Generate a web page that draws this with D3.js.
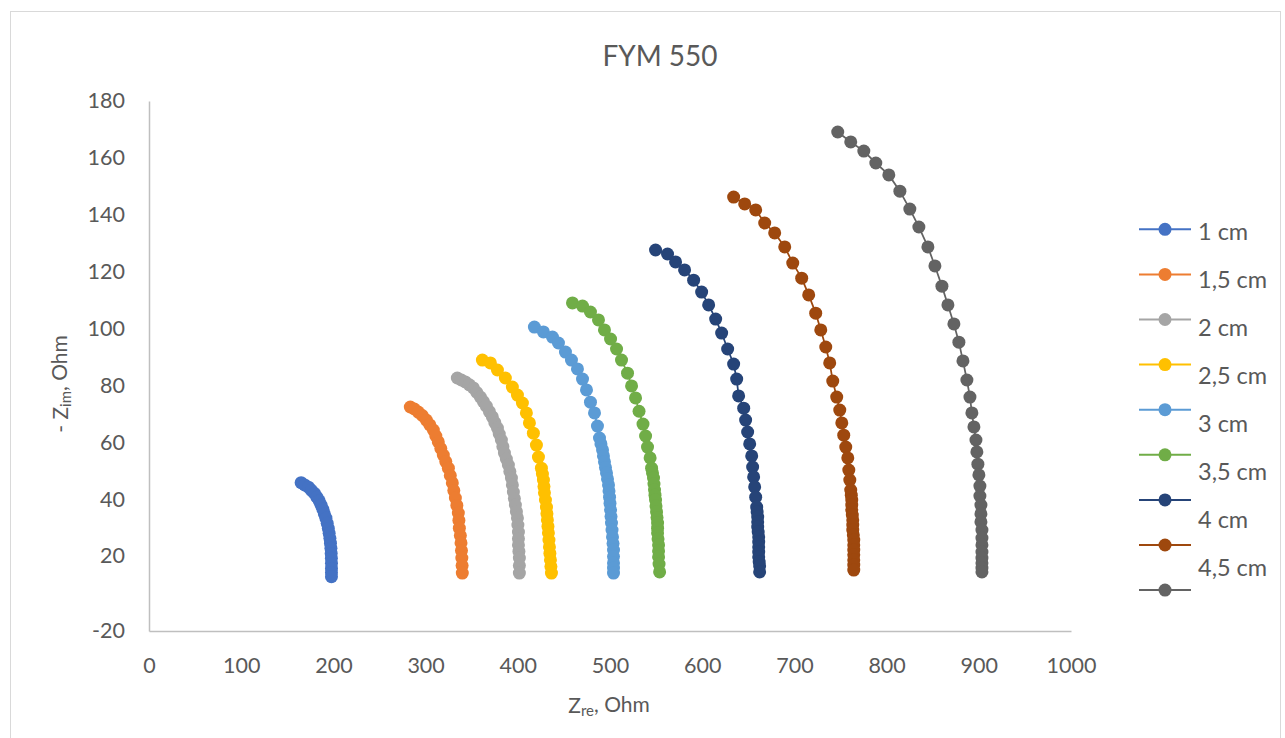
<!DOCTYPE html>
<html>
<head>
<meta charset="utf-8">
<script src="https://cdn.jsdelivr.net/npm/d3@7"></script>
<style>
  body { margin: 0; background: #fff; }
  svg text { font-family: Lato, "Open Sans", sans-serif; fill: #595959; }
</style>
</head>
<body>
<svg id="chart" width="1285" height="738"></svg>
<script>
// Nyquist plot, FYM 550: -Zim vs Zre for each electrode spacing
const legendLabels = ["1 cm", "1,5 cm", "2 cm", "2,5 cm", "3 cm", "3,5 cm", "4 cm", "4,5 cm"];
const seriesColors = ["#4472C4", "#ED7D31", "#A5A5A5", "#FFC000", "#5B9BD5", "#70AD47", "#264478", "#9E480E", "#636363"];
const xTicks = [0, 100, 200, 300, 400, 500, 600, 700, 800, 900, 1000];
const yTicks = [-20, 20, 40, 60, 80, 100, 120, 140, 160, 180];

// [Zre, -Zim] in Ohm
const series1 = [[165.0,45.8],[168.8,45.0],[173.0,44.2],[176.2,43.1],[179.5,42.0],[182.1,40.7],[184.6,39.4],[186.6,37.9],[188.6,36.4],[190.2,34.8],[191.9,33.3],[193.3,31.5],[194.5,29.7],[195.4,28.0],[196.2,26.2],[196.8,24.5],[197.3,22.7],[197.6,20.9],[197.8,18.8],[197.9,16.1],[197.9,13.4],[197.9,11.2],[197.9,9.0]];
const series2 = [[283.4,72.4],[287.8,71.7],[292.1,70.6],[296.4,69.4],[300.8,67.8],[304.6,66.1],[308.4,64.3],[311.1,62.2],[313.8,60.1],[316.5,57.8],[319.2,55.5],[321.9,53.2],[324.7,50.9],[326.8,48.3],[329.0,45.7],[330.6,43.0],[332.3,40.4],[333.9,37.8],[335.5,35.1],[336.1,32.5],[336.6,29.8],[337.7,27.2],[338.4,24.6],[338.9,21.9],[339.3,18.9],[339.6,14.9],[339.8,10.9]];
const series3 = [[334.4,82.6],[338.8,81.9],[343.1,81.2],[347.5,80.2],[351.8,79.1],[355.6,77.5],[359.4,75.9],[362.7,74.3],[365.9,72.7],[369.2,70.8],[372.4,68.9],[375.1,66.9],[377.9,65.0],[379.9,62.9],[382.2,60.8],[383.8,58.5],[385.5,56.2],[387.6,54.1],[389.8,52.0],[391.4,49.7],[393.1,47.4],[394.1,45.0],[395.2,42.5],[396.3,40.2],[397.4,37.9],[398.5,35.6],[399.6,33.4],[400.1,30.9],[400.7,28.4],[400.7,26.1],[400.7,23.9],[401.2,21.6],[401.7,18.9],[401.7,14.9],[401.7,10.9]];
const series4 = [[361.6,88.9],[370.3,87.9],[377.9,85.4],[386.5,82.6],[394.1,79.4],[399.6,76.6],[405.0,73.8],[409.3,70.3],[412.6,66.8],[416.9,63.2],[420.2,59.0],[422.4,54.8],[425.6,50.9],[426.7,48.8],[427.8,46.7],[428.4,44.4],[428.9,42.2],[430.0,39.7],[431.1,37.2],[431.6,34.9],[432.1,32.7],[432.7,30.4],[433.2,28.1],[433.8,25.6],[434.3,23.2],[434.8,20.9],[435.4,17.9],[435.9,14.4],[436.5,10.9]];
const series5 = [[418.0,100.5],[427.8,98.8],[437.6,97.0],[444.1,94.9],[451.7,91.7],[458.2,88.9],[464.7,85.8],[470.2,82.2],[474.5,78.4],[478.8,74.1],[483.2,70.3],[486.4,65.7],[488.6,61.5],[490.2,59.4],[491.9,57.3],[492.9,55.2],[494.0,53.1],[495.1,51.1],[496.2,49.2],[497.3,47.1],[498.4,45.0],[498.9,42.9],[499.5,40.7],[500.0,38.5],[500.6,36.2],[501.1,33.9],[501.6,31.6],[502.2,29.1],[502.7,26.7],[503.3,24.4],[503.8,22.1],[503.8,19.7],[503.8,16.3],[503.8,13.6],[503.8,10.9]];
const series6 = [[459.3,109.0],[470.2,107.9],[478.8,105.8],[487.5,103.0],[494.0,99.5],[500.6,96.3],[507.1,92.8],[512.5,88.9],[519.0,84.3],[523.4,79.8],[527.7,75.6],[531.5,70.9],[535.8,66.4],[538.6,62.2],[540.7,58.3],[543.5,54.5],[545.1,50.9],[546.1,49.2],[547.2,47.4],[547.7,45.3],[548.3,43.2],[548.8,41.4],[549.4,39.7],[549.9,37.6],[550.5,35.5],[551.0,33.5],[551.6,31.6],[551.6,29.8],[551.6,28.1],[552.1,26.0],[552.7,23.9],[552.7,21.8],[552.7,19.5],[553.2,15.7],[553.8,11.5]];
const series7 = [[549.4,127.6],[562.4,126.2],[571.1,123.4],[580.9,120.6],[590.7,117.0],[599.4,112.8],[607.0,108.3],[614.6,103.3],[621.1,98.4],[627.6,92.8],[634.1,87.5],[637.4,82.2],[639.5,76.3],[645.0,72.0],[647.1,67.8],[649.3,63.6],[651.5,59.4],[653.7,55.2],[654.7,51.3],[655.8,47.8],[656.9,44.3],[658.0,40.7],[659.1,37.2],[659.6,35.5],[660.2,33.7],[660.2,32.0],[660.2,30.2],[660.7,28.4],[661.3,26.7],[661.3,24.9],[661.3,23.2],[661.3,21.4],[661.3,19.5],[661.8,16.8],[662.3,14.7],[662.3,11.5]];
const series8 = [[634.1,146.2],[646.1,143.8],[658.0,141.7],[667.8,137.1],[678.6,133.6],[689.5,128.7],[698.2,123.0],[707.9,117.7],[715.5,111.8],[723.1,105.4],[728.6,99.5],[734.0,93.5],[738.3,87.9],[741.6,81.5],[745.9,75.9],[749.2,71.3],[751.4,66.8],[753.5,62.5],[755.7,58.3],[757.9,54.5],[759.0,50.2],[760.1,46.7],[761.1,43.2],[761.7,41.4],[762.2,39.7],[762.2,37.9],[762.2,36.2],[762.8,34.4],[763.3,32.7],[763.3,30.9],[763.3,29.1],[763.9,27.4],[764.4,25.6],[764.4,23.9],[764.4,22.1],[764.4,20.4],[764.4,17.9],[764.4,15.2],[764.4,12.5]];
const series9 = [[747.0,169.1],[761.1,165.6],[775.3,162.4],[788.3,158.2],[802.4,154.0],[814.4,148.3],[825.2,142.0],[835.0,135.7],[844.8,128.7],[852.4,122.0],[860.0,114.9],[866.5,108.3],[873.0,101.6],[878.4,95.2],[882.8,88.6],[887.1,81.9],[890.4,75.9],[892.5,70.3],[894.7,65.4],[896.9,60.8],[897.9,56.6],[899.0,52.3],[900.1,48.5],[901.2,44.6],[901.2,41.1],[902.3,37.9],[902.3,34.8],[902.3,32.0],[903.4,29.1],[903.4,26.3],[903.4,23.9],[903.4,21.4],[903.4,18.9],[903.4,16.3],[903.4,13.6],[903.4,11.5]];

const allSeries = [series1, series2, series3, series4, series5, series6, series7, series8, series9];

const svg = d3.select("#chart");
const axisColor = "#BFBFBF";

// chart frame
svg.append("rect")
  .attr("x", 10.5).attr("y", 11.5)
  .attr("width", 1270).attr("height", 740)
  .attr("fill", "#fff").attr("stroke", "#D9D9D9").attr("stroke-width", 1);

const x = d3.scaleLinear().domain([0, 1000]).range([149, 1071]);
// value axis: the segment below 20 is compressed, -20 sits on the baseline
const y = d3.scaleLinear().domain([-20, 20, 180]).range([631, 556, 101]);

// title
svg.append("text")
  .attr("x", 660).attr("y", 56).attr("dy", "0.35em")
  .attr("text-anchor", "middle")
  .style("font-size", "28px")
  .text("FYM 550");

// axes (plain hyphen for negative labels)
const plain = d => String(d);
const xAxis = svg.append("g")
  .attr("transform", `translate(0,${y(-20)})`)
  .call(d3.axisBottom(x).tickValues(xTicks).tickSize(0).tickPadding(27).tickFormat(plain));
const yAxis = svg.append("g")
  .attr("transform", `translate(${x(0)},0)`)
  .call(d3.axisLeft(y).tickValues(yTicks).tickSize(0).tickPadding(24).tickFormat(plain));

[xAxis, yAxis].forEach(g => {
  g.select(".domain").attr("stroke", axisColor).attr("stroke-width", 1.5);
  g.selectAll("text").style("font-size", "21.5px").attr("fill", "#595959");
});

// axis titles
const xTitle = svg.append("text")
  .attr("x", 609).attr("y", 706).attr("dy", "0.35em")
  .attr("text-anchor", "middle")
  .style("font-size", "21px");
xTitle.append("tspan").text("Z");
xTitle.append("tspan").attr("dy", "0.2em").style("font-size", "15px").text("re");
xTitle.append("tspan").attr("dy", "-0.2em").text(", Ohm");

const yTitle = svg.append("text")
  .attr("transform", "translate(61,384) rotate(-90)")
  .attr("dy", "0.35em")
  .attr("text-anchor", "middle")
  .style("font-size", "21px");
yTitle.append("tspan").text("- Z");
yTitle.append("tspan").attr("dy", "0.2em").style("font-size", "15px").text("im");
yTitle.append("tspan").attr("dy", "-0.2em").text(", Ohm");

// series: connecting line plus round markers
const line = d3.line().x(d => x(d[0])).y(d => y(d[1]));
allSeries.forEach((data, i) => {
  const g = svg.append("g");
  g.append("path")
    .attr("d", line(data))
    .attr("fill", "none")
    .attr("stroke", seriesColors[i])
    .attr("stroke-width", 1.75);
  g.selectAll("circle")
    .data(data)
    .join("circle")
    .attr("cx", d => x(d[0]))
    .attr("cy", d => y(d[1]))
    .attr("r", 6.5)
    .attr("fill", seriesColors[i]);
});

// legend: symbols for every series, labels in their own column
const legend = svg.append("g");
const symY = d3.scaleLinear().domain([0, 1]).range([229.3, 274.4]);
const labelY = d3.scaleLinear().domain([0, 1]).range([231.7, 279.7]);
seriesColors.forEach((c, i) => {
  legend.append("line")
    .attr("x1", 1139).attr("x2", 1191)
    .attr("y1", symY(i)).attr("y2", symY(i))
    .attr("stroke", c).attr("stroke-width", 2);
  legend.append("circle")
    .attr("cx", 1165).attr("cy", symY(i))
    .attr("r", 6.5).attr("fill", c);
});
legendLabels.forEach((t, i) => {
  legend.append("text")
    .attr("x", 1198).attr("y", labelY(i)).attr("dy", "0.36em")
    .style("font-size", "23.5px")
    .text(t);
});
</script>
</body>
</html>
